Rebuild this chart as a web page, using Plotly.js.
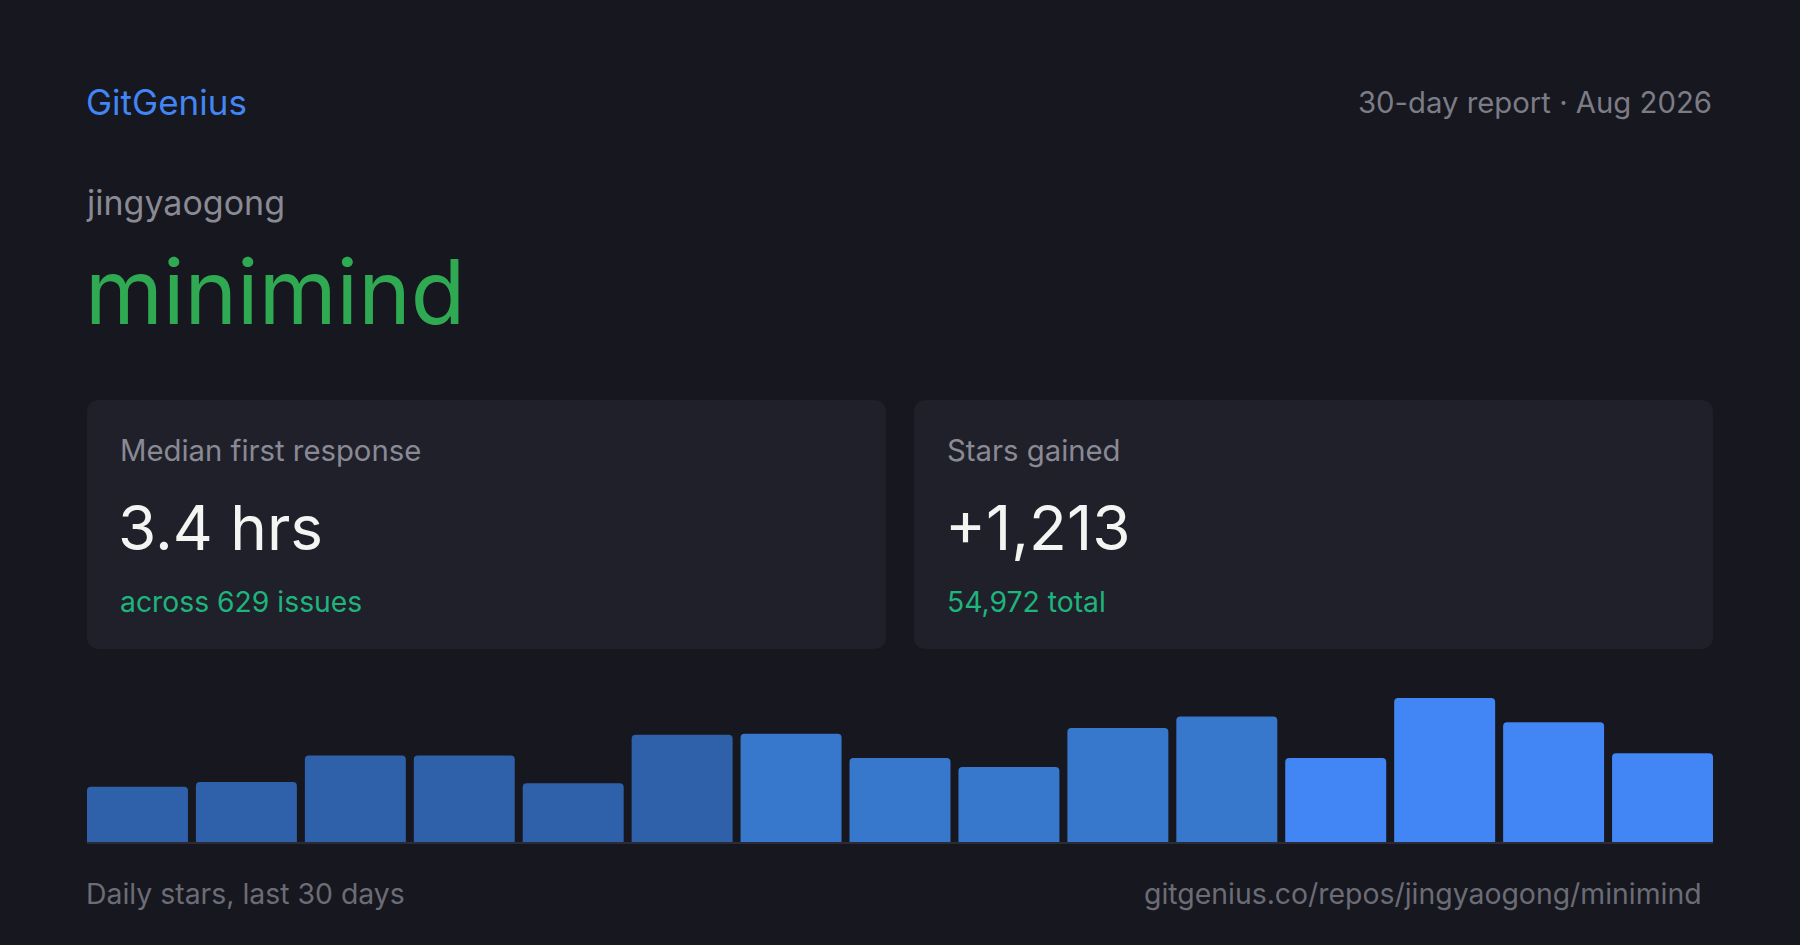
<!DOCTYPE html>
<html>
<head>
<meta charset="utf-8">
<script src="https://cdn.plot.ly/plotly-3.0.1.min.js"></script>
<style>
html,body{margin:0;padding:0;background:#16171f;}
#chart{width:1800px;height:945px;}
</style>
</head>
<body>
<div id="chart"></div>
<script>
// ---- data ----
const periods = ["1","2","3","4","5","6","7","8","9","10","11","12","13","14","15"];
const dailyStars = [48, 52, 75, 75, 51, 93, 94, 73, 65, 99, 109, 73, 125, 104, 77];
const barColors = ["#2f60aa","#2f60aa","#2f60aa","#2f60aa","#2f60aa","#2f60aa",
                   "#3778cc","#3778cc","#3778cc","#3778cc","#3778cc",
                   "#4285f4","#4285f4","#4285f4","#4285f4"];
const brand = "GitGenius";
const reportLabel = "30-day report · Aug 2026";
const owner = "jingyaogong";
const repo = "minimind";
const card1 = {label: "Median first response", value: "3.4 hrs", sub: "across 629 issues"};
const card2 = {label: "Stars gained", value: "+1,213", sub: "54,972 total"};
const footerLeft = "Daily stars, last 30 days";
const footerRight = "gitgenius.co/repos/jingyaogong/minimind";

// ---- layout helpers (pixel -> paper) ----
const W = 1800, H = 945;
const px = x => x / W;
const py = y => 1 - y / H;
const FONT = "Inter, 'Noto Sans', sans-serif";

function roundRect(x0, y0, x1, y1, r) {
  const P = (x, y) => px(x) + "," + py(y);
  return "M" + P(x0 + r, y0) +
    " L" + P(x1 - r, y0) + " Q" + P(x1, y0) + " " + P(x1, y0 + r) +
    " L" + P(x1, y1 - r) + " Q" + P(x1, y1) + " " + P(x1 - r, y1) +
    " L" + P(x0 + r, y1) + " Q" + P(x0, y1) + " " + P(x0, y1 - r) +
    " L" + P(x0, y0 + r) + " Q" + P(x0, y0) + " " + P(x0 + r, y0) + " Z";
}

function txt(text, x, y, size, color, anchor) {
  return {
    text: text, xref: "paper", yref: "paper", x: px(x), y: py(y),
    xanchor: anchor || "left", yanchor: "middle", showarrow: false,
    font: {family: FONT, size: size, color: color}
  };
}

const cards = [
  {c: card1, x0: 87, x1: 886},
  {c: card2, x0: 914, x1: 1713}
];

const annotations = [
  txt(brand, 84, 102, 35, "#4285f4"),
  txt(reportLabel, 1714, 102, 29.3, "#7c7c86", "right"),
  txt(owner, 84, 203, 34, "#8a8a94"),
  txt(repo, 83, 292, 89, "#2faa52"),
  txt(footerLeft, 84, 893, 28.4, "#6c6c76"),
  txt(footerRight, 1704, 893, 28.4, "#6c6c76", "right")
];
const shapes = [];
cards.forEach(k => {
  shapes.push({type: "path", xref: "paper", yref: "paper",
    path: roundRect(k.x0, 400, k.x1, 649, 13),
    fillcolor: "#20202b", line: {width: 0}, layer: "below"});
  annotations.push(txt(k.c.label, k.x0 + 31, 450, 29.3, "#8a8a94"));
  annotations.push(txt(k.c.value, k.x0 + 29, 527, 62, "#f4f4f2"));
  annotations.push(txt(k.c.sub, k.x0 + 31, 602, 28.3, "#1fb47c"));
});
shapes.push({type: "line", xref: "paper", yref: "paper",
  x0: px(87), x1: px(1713), y0: py(843), y1: py(843),
  line: {color: "#2a2b36", width: 2}, layer: "above"});

const trace = {
  type: "bar", x: periods, y: dailyStars,
  marker: {color: barColors, cornerradius: 4, line: {width: 0}},
  hoverinfo: "skip"
};

const layout = {
  width: W, height: H,
  paper_bgcolor: "#16171f", plot_bgcolor: "rgba(0,0,0,0)",
  margin: {l: 0, r: 0, t: 0, b: 0},
  showlegend: false,
  bargap: 0.073,
  xaxis: {domain: [px(83), px(1717)], showgrid: false, zeroline: false,
          showticklabels: false, ticks: "", showline: false, fixedrange: true},
  yaxis: {domain: [py(842), py(698)], range: [0, 125], showgrid: false, zeroline: false,
          showticklabels: false, ticks: "", showline: false, fixedrange: true},
  shapes: shapes,
  annotations: annotations
};

Plotly.newPlot("chart", [trace], layout, {displayModeBar: false, staticPlot: true});
</script>
</body>
</html>
